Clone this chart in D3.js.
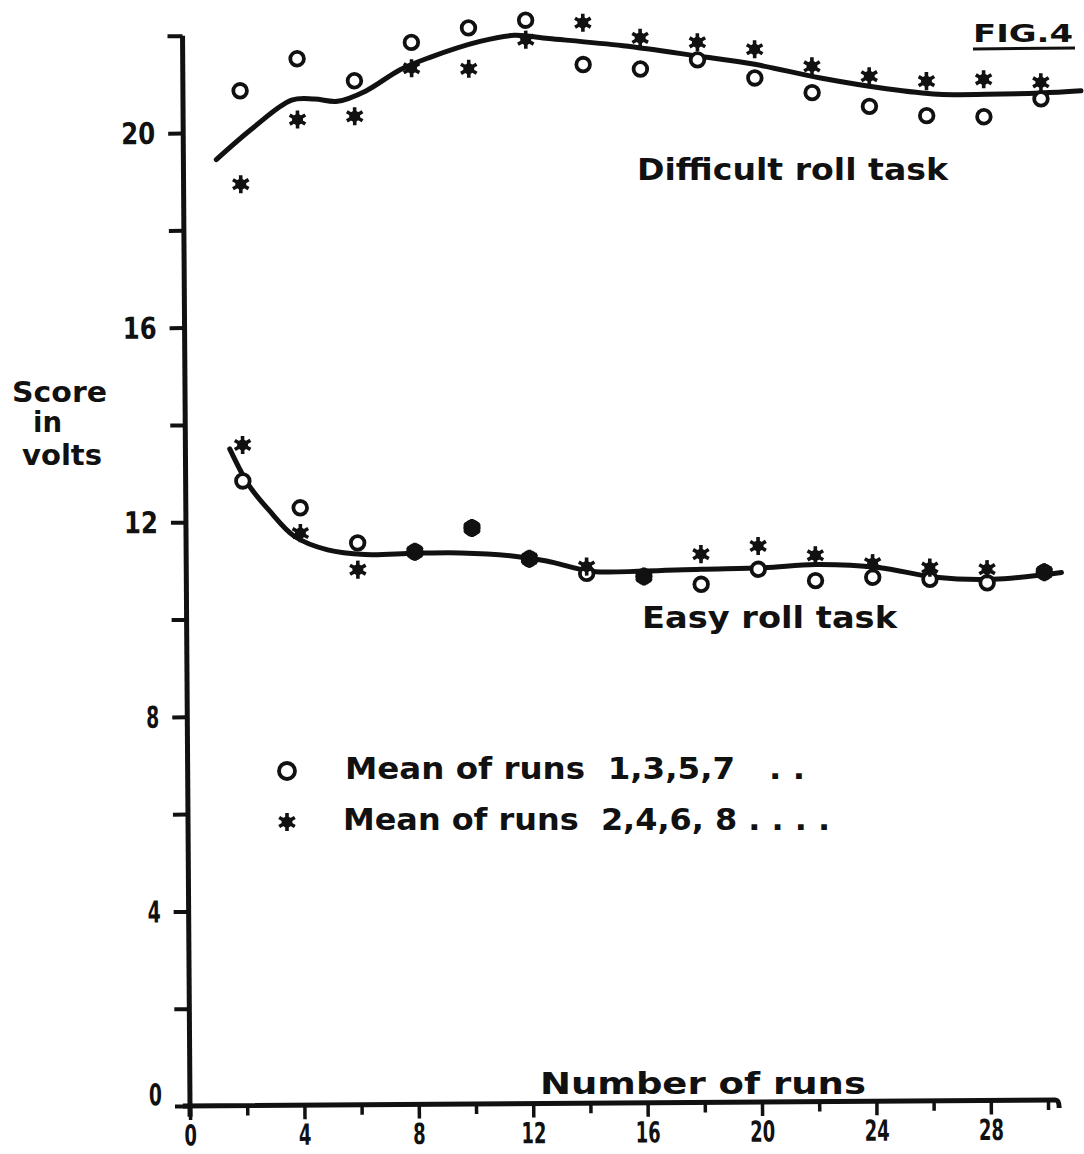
<!DOCTYPE html>
<html>
<head>
<meta charset="utf-8">
<script src="https://cdn.jsdelivr.net/npm/d3@7"></script>
<style>
  body { margin: 0; background: #fff; }
  svg { display: block; }
  text { font-family: "DejaVu Sans", sans-serif; font-weight: bold; fill: #111; }
</style>
</head>
<body>
<svg id="chart" width="1084" height="1154"></svg>
<script>
// run number of every plotted point
let runs = [2, 4, 6, 8, 10, 12, 14, 16, 18, 20, 22, 24, 26, 28, 30];

// difficult roll task, volts
let difficultOdd  = [20.86, 21.51, 21.05, 21.83, 22.12, 22.27, 21.35, 21.25, 21.43, 21.05, 20.74, 20.45, 20.25, 20.22, 20.58];
let difficultEven = [18.94, 20.26, 20.32, 21.30, 21.28, 21.87, 22.21, 21.89, 21.79, 21.64, 21.28, 21.07, 20.96, 20.99, 20.92];
// the hand drawn curve as [run, volts]
let difficultCurve = [[1.15, 19.45], [2.45, 20.1], [3.8, 20.66], [4.6, 20.68], [5.4, 20.63], [6.4, 20.84],
                      [7.6, 21.27], [8.6, 21.51], [10.4, 21.84], [11.6, 21.96], [12.8, 21.89], [15.4, 21.73],
                      [18, 21.51], [20, 21.33], [22.3, 21.04], [24.6, 20.81], [26.4, 20.69], [28.1, 20.68],
                      [30, 20.7], [31.4, 20.74]];

// easy roll task, volts
let easyOdd  = [12.84, 12.28, 11.55, 11.36, 11.84, 11.20, 10.89, 10.82, 10.65, 10.95, 10.71, 10.77, 10.72, 10.64, 10.85];
let easyEven = [13.58, 11.76, 11.00, 11.36, 11.84, 11.20, 11.03, 10.82, 11.27, 11.43, 11.23, 11.06, 10.96, 10.92, 10.85];
let easyCurve = [[1.55, 13.5], [2.2, 12.76], [2.9, 12.24], [3.8, 11.69], [4.95, 11.41], [6.25, 11.31],
                 [8, 11.33], [9.6, 11.33], [11.4, 11.26], [12.6, 11.15], [14.2, 10.93], [16, 10.93],
                 [18, 10.96], [20.2, 10.98], [22, 11.04], [24.2, 10.97], [26.2, 10.76], [28.2, 10.71],
                 [30.6, 10.84]];

// axes
let xTicks  = [0, 2, 4, 6, 8, 10, 12, 14, 16, 18, 20, 22, 24, 26, 28, 30];
let xLabels = [0, 4, 8, 12, 16, 20, 24, 28];
let yTicks  = [0, 2, 4, 6, 8, 10, 12, 14, 16, 18, 20, 22];
let yLabels = [0, 4, 8, 12, 16, 20];

let svg = d3.select("#chart");
let ox = 190, oy = 1106;

let x = d3.scaleLinear().domain([0, 30]).range([ox, ox + 30 * 28.6]);
let y = d3.scaleLinear().domain([0, 22]).range([oy, oy - 22 * 48.65]);

// the scanned figure sits a little askew
let g = svg.append("g").attr("transform", `rotate(-0.4, ${ox}, ${oy})`);

// x axis
let xAxis = g.append("g")
    .attr("transform", `translate(0, ${oy})`)
    .call(d3.axisBottom(x)
            .tickValues(xTicks)
            .tickSize(14)
            .tickSizeOuter(0)
            .tickPadding(5)
            .tickFormat(d => xLabels.includes(d) ? d : ""));
xAxis.select(".domain").remove();
xAxis.selectAll(".tick line")
     .attr("stroke", "#111")
     .attr("stroke-width", 3.5)
     .attr("y2", d => xLabels.includes(d) ? 14 : 10);
xAxis.selectAll(".tick text")
     .attr("font-family", null)
     .style("font-size", "29px")
     .attr("fill", "#111")
     .attr("textLength", d => String(d).length * 12.5)
     .attr("lengthAdjust", "spacingAndGlyphs");

// y axis
let yAxis = g.append("g")
    .attr("transform", `translate(${ox}, 0)`)
    .call(d3.axisLeft(y)
            .tickValues(yTicks)
            .tickSize(15)
            .tickSizeOuter(0)
            .tickPadding(13)
            .tickFormat(d => yLabels.includes(d) ? d : ""));
yAxis.select(".domain").remove();
yAxis.selectAll(".tick line").attr("stroke", "#111").attr("stroke-width", 4);
yAxis.selectAll(".tick text")
     .attr("font-family", null)
     .style("font-size", "30px")
     .attr("fill", "#111")
     .attr("dy", d => d == 0 ? "-0.05em" : "0.34em")
     .attr("textLength", d => String(d).length == 1 ? 13 : 34)
     .attr("lengthAdjust", "spacingAndGlyphs");

// axis lines, a bit past the last tick like the drawing
g.append("path")
 .attr("d", `M${x(-0.25)},${y(0)}H${x(30.25)}q4,0 4,8`)
 .attr("fill", "none").attr("stroke", "#111").attr("stroke-width", 5);
g.append("line")
 .attr("x1", x(0)).attr("x2", x(0))
 .attr("y1", y(-0.22)).attr("y2", y(22))
 .attr("stroke", "#111").attr("stroke-width", 5);

// curves
let line = d3.line()
             .x(d => x(d[0]))
             .y(d => y(d[1]))
             .curve(d3.curveCatmullRom.alpha(0.5));

[difficultCurve, easyCurve].forEach(c => {
    g.append("path")
     .attr("d", line(c))
     .attr("fill", "none")
     .attr("stroke", "#111")
     .attr("stroke-width", 5)
     .attr("stroke-linecap", "round");
});

// markers
let asterisk = d3.symbol(d3.symbolAsterisk, 230);

function circles(values) {
    g.append("g").selectAll("circle")
     .data(values).enter().append("circle")
     .attr("cx", (d, i) => x(runs[i]))
     .attr("cy", d => y(d))
     .attr("r", 6.8)
     .attr("fill", "#fff")
     .attr("stroke", "#111")
     .attr("stroke-width", 3.8);
}

function star(sel) {
    sel.append("circle").attr("r", 5.5).attr("fill", "#111");
    sel.append("path").attr("d", asterisk()).attr("fill", "none")
       .attr("stroke", "#111").attr("stroke-width", 3.6);
}

function stars(values) {
    g.append("g").selectAll("g")
     .data(values).enter().append("g")
     .attr("transform", (d, i) => `translate(${x(runs[i])}, ${y(d)})`)
     .call(star);
}

circles(difficultOdd);
circles(easyOdd);
stars(difficultEven);
stars(easyEven);

// texts
function label(str, tx, ty, size, len) {
    let t = svg.append("text")
               .attr("x", tx).attr("y", ty)
               .attr("xml:space", "preserve")
               .style("font-size", size + "px")
               .text(str);
    if (len) t.attr("textLength", len).attr("lengthAdjust", "spacingAndGlyphs");
    return t;
}

label("FIG.4", 973, 42, 25, 100);
svg.append("line").attr("x1", 973).attr("x2", 1075).attr("y1", 49).attr("y2", 48)
   .attr("stroke", "#111").attr("stroke-width", 3);

label("Difficult roll task", 637, 180, 31, 311);
label("Easy roll task", 642, 628, 31, 255);
label("Number of runs", 540, 1094, 31, 326);

label("Score", 12, 402, 28, 95);
label("in", 33, 432, 28, 29);
label("volts", 22, 465, 28, 80);

// legend
svg.append("circle").attr("cx", 287).attr("cy", 771).attr("r", 8)
   .attr("fill", "#fff").attr("stroke", "#111").attr("stroke-width", 3.8);
svg.append("g").attr("transform", "translate(287, 822)").call(star);

label("Mean of runs  1,3,5,7   . .", 345, 779, 30, 460);
label("Mean of runs  2,4,6, 8 . . . .", 343, 830, 30, 487);
</script>
</body>
</html>
